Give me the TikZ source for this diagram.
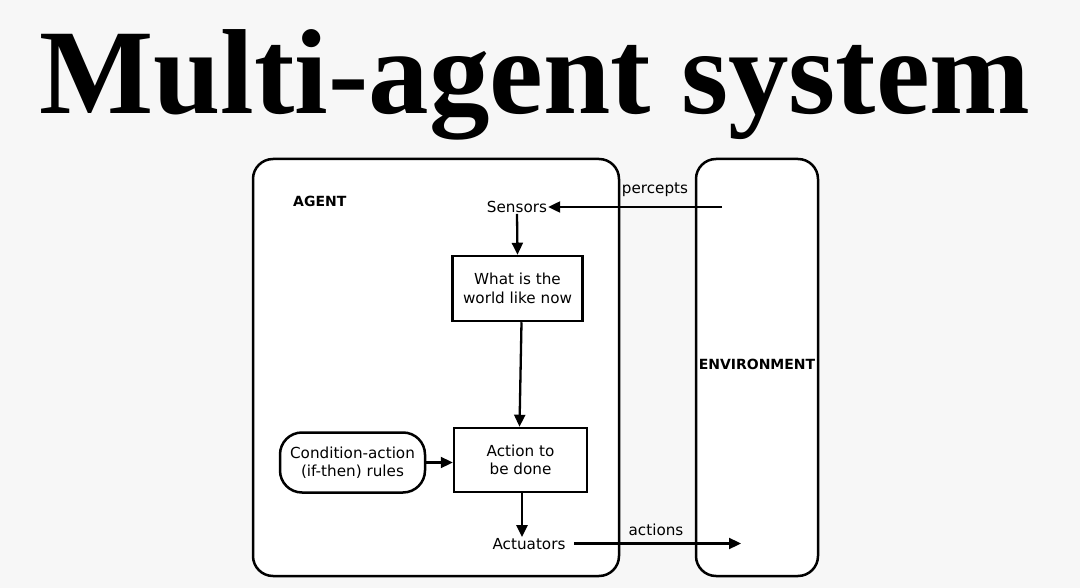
\documentclass[tikz,border=0pt]{standalone}
\usepackage{fontspec}
\setmainfont{DejaVu Sans}
\newfontfamily\titlefont{Liberation Serif}
\usetikzlibrary{arrows.meta}
\definecolor{bgc}{RGB}{247,247,247}
\tikzset{
  frame/.style={draw=black, line width=2.5pt, rounded corners=20pt, fill=white},
  box/.style={draw=black, line width=2.5pt, fill=white, align=center, inner sep=0pt, font=\fontsize{15.2}{18.5}\selectfont},
  lbl/.style={font=\fontsize{15.2}{18}\selectfont, inner sep=1pt},
  blbl/.style={font=\bfseries\fontsize{14}{17}\selectfont, inner sep=0pt},
  arr/.style={line width=2.3pt, -{Triangle[length=12pt,width=11pt]}},
}
\begin{document}
\begin{tikzpicture}[x=1pt,y=-1pt]
\fill[bgc] (0,0) rectangle (1080,588);
\useasboundingbox (0,0) rectangle (1080,588);
\node[font=\titlefont\bfseries\fontsize{121}{130}\selectfont, anchor=base, inner sep=0pt] (title) at (535,114) {Multi-agent system};
% frames
\draw[frame] (253,159) rectangle (619,576);
\draw[frame] (696,159) rectangle (818,576);
\node[blbl, anchor=west] (agent) at (293,201) {AGENT};
\node[blbl] (env) at (757,364) {ENVIRONMENT};
% nodes
\node[lbl] (sensors) at (517,207) {Sensors};
\node[box, minimum width=130pt, minimum height=65pt] (world) at (517.5,288.5) {What is the\\world like now};
\node[box, minimum width=133pt, minimum height=64pt] (action) at (520.5,460) {Action to\\be done};
\node[box, rounded corners=22pt, minimum width=145pt, minimum height=60pt] (rules) at (352.5,462.5) {Condition-action\\(if-then) rules};
\node[lbl] (act) at (529,544) {Actuators};
\node[lbl] (perc) at (655,190) {percepts};
\node[lbl] (actions) at (656,530) {actions};
\coordinate (pin) at (722,207);
\coordinate (aout) at (741,543.5);
\coordinate (aoutstart) at (574,543.5);
% connectors
\draw[arr] (pin) -- (sensors.east);
\draw[arr] (sensors.south) -- (world.north);
\draw[arr] ([xshift=4pt]world.south) -- ([xshift=-1pt]action.north);
\draw[arr] (rules.east) -- (rules.east -| action.west);
\draw[arr] ([xshift=1.5pt]action.south) -- ([xshift=1.5pt]action.south |- act.north);
\draw[arr] (aoutstart) -- (aout);
\end{tikzpicture}
\end{document}
